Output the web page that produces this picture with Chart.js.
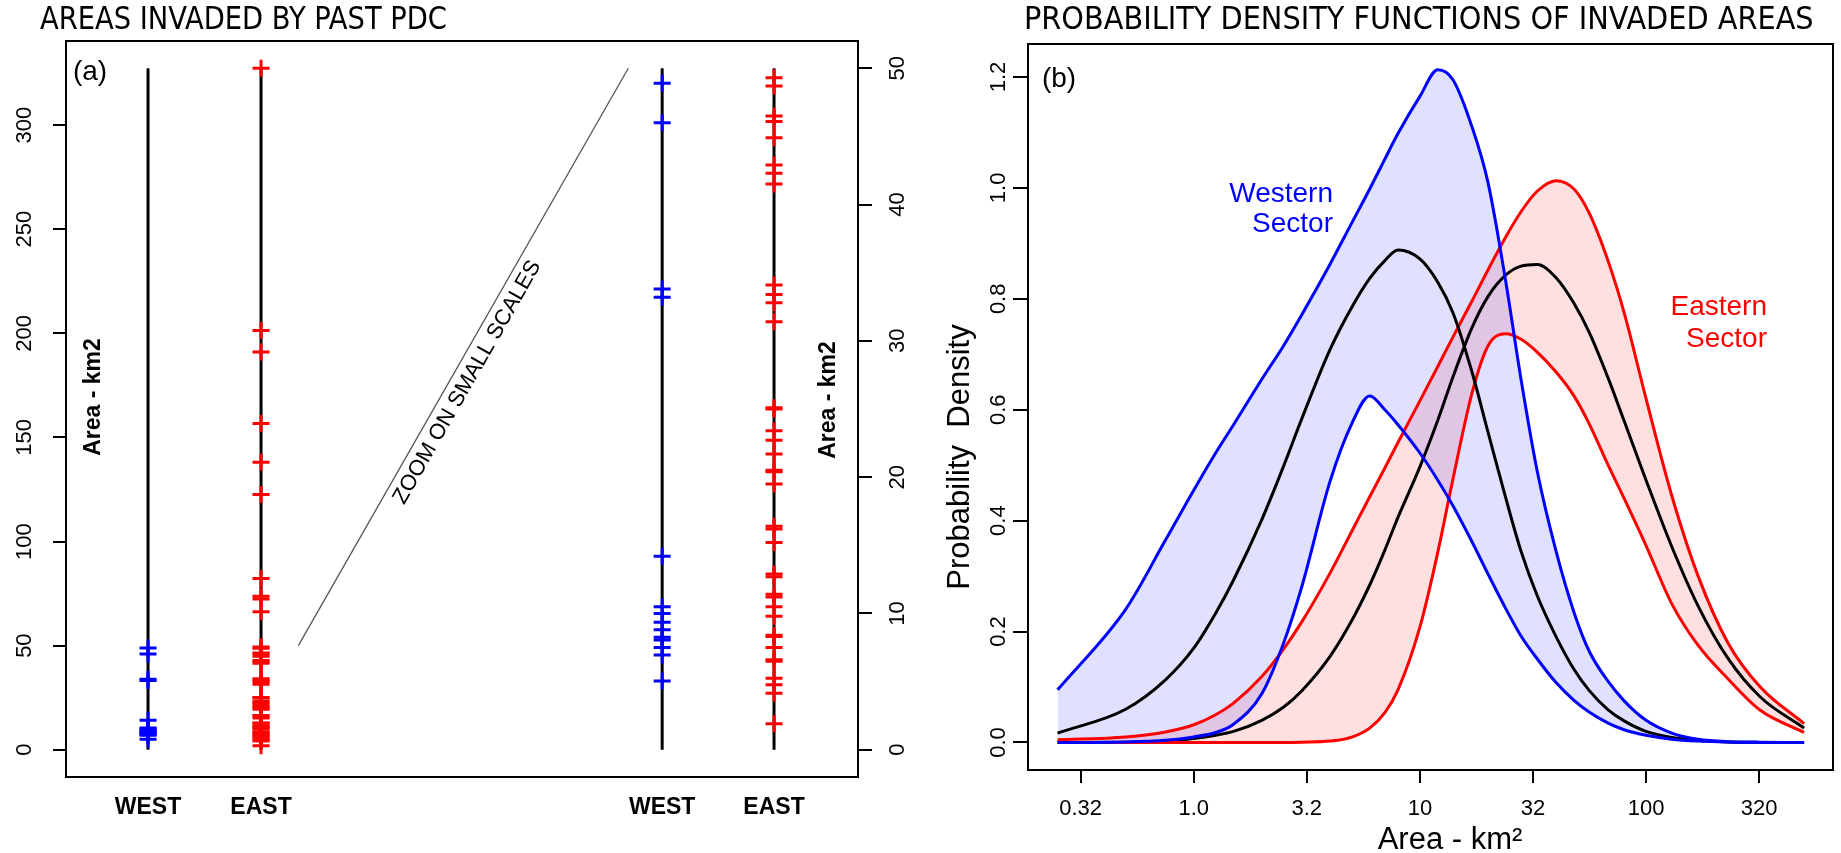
<!DOCTYPE html>
<html>
  <head>
    <title>Areas invaded by past PDC</title>
    <style>
      html, body { margin: 0; padding: 0; background: #fff; }
      #wrap { position: relative; width: 1841px; height: 853px; overflow: hidden; }
      #chartA { position: absolute; left: 0; top: 0; }
      #chartB { position: absolute; left: 920px; top: 0; }
    </style>
    <script src="https://cdn.jsdelivr.net/npm/chart.js"></script>
  </head>
  <body>
    <div id="wrap">
      <canvas id="chartA" width="920" height="853"></canvas>
      <canvas id="chartB" width="921" height="853"></canvas>
    </div>

    <script>
      // (a) invaded areas, km2
      const westAreas = [48.9, 46.0, 33.8, 33.2, 14.2, 10.5, 10.0, 9.35, 8.8, 8.25, 8.06, 7.5, 6.96, 5.05];
      const eastAreas = [327.3, 201.4, 191.0, 156.7, 138.1, 122.6, 82.2, 73.7, 72.4, 66.3,
        49.3, 48.7, 46.5, 46.1, 44.9, 42.9, 42.3, 41.5, 34.1, 33.4, 32.8, 31.4,
        25.1, 25.0, 23.4, 22.7, 21.7, 20.5, 20.4, 19.5, 16.4, 16.2, 15.2, 12.9, 12.7,
        11.4, 11.2, 10.5, 9.8, 8.4, 8.3, 7.5, 6.6, 6.5, 5.25, 4.76, 4.15, 1.9];
      const stripLabels = ['WEST', 'EAST', 'WEST', 'EAST'];
      const stripPos = [1, 2, 5.55, 6.54];
      const zoomLimit = 50;
      const areaTicks = [0, 50, 100, 150, 200, 250, 300];
      const zoomTicks = [0, 10, 20, 30, 40, 50];

      // (b) probability density functions
      const pdfArea = [0.25, 0.5, 0.75, 1, 1.25, 1.5, 2, 2.5, 3, 4, 5, 6, 7, 8, 10, 12, 14, 17, 20, 24, 28, 33, 40, 48, 56, 68, 80, 100, 130, 170, 230, 320, 500];
      const westUpper = [0.095, 0.240, 0.365, 0.455, 0.522, 0.573, 0.655, 0.716, 0.771, 0.862, 0.937, 0.998, 1.052, 1.098, 1.165, 1.213, 1.195, 1.11, 1.01, 0.83, 0.655, 0.49, 0.345, 0.235, 0.165, 0.11, 0.075, 0.04, 0.017, 0.006, 0.0015, 0.0003, 0];
      const westLower = [0, 0.001, 0.004, 0.010, 0.018, 0.033, 0.088, 0.18, 0.28, 0.47, 0.575, 0.625, 0.60, 0.573, 0.522, 0.473, 0.427, 0.362, 0.304, 0.241, 0.192, 0.151, 0.108, 0.076, 0.055, 0.035, 0.023, 0.013, 0.006, 0.0026, 0.0008, 0.0002, 0];
      const westMid = [0.017, 0.060, 0.113, 0.170, 0.233, 0.293, 0.402, 0.499, 0.583, 0.708, 0.785, 0.837, 0.869, 0.888, 0.872, 0.83, 0.775, 0.668, 0.56, 0.44, 0.345, 0.265, 0.191, 0.132, 0.094, 0.059, 0.039, 0.020, 0.009, 0.0035, 0.001, 0.0002, 0];
      const eastUpper = [0.005, 0.010, 0.019, 0.032, 0.050, 0.071, 0.119, 0.169, 0.217, 0.305, 0.381, 0.443, 0.495, 0.541, 0.616, 0.678, 0.731, 0.796, 0.852, 0.912, 0.957, 0.994, 1.013, 0.998, 0.955, 0.868, 0.775, 0.62, 0.445, 0.30, 0.18, 0.10, 0.034];
      const eastLower = [0, 0, 0, 0, 0, 0, 0, 0, 0.0005, 0.0025, 0.0098, 0.026, 0.054, 0.095, 0.208, 0.343, 0.475, 0.63, 0.715, 0.737, 0.727, 0.704, 0.668, 0.625, 0.575, 0.50, 0.44, 0.355, 0.25, 0.175, 0.115, 0.058, 0.018];
      const eastMid = [0, 0.0005, 0.002, 0.007, 0.013, 0.020, 0.040, 0.064, 0.093, 0.155, 0.22, 0.284, 0.347, 0.406, 0.497, 0.581, 0.659, 0.748, 0.804, 0.843, 0.859, 0.862, 0.838, 0.792, 0.74, 0.657, 0.58, 0.473, 0.353, 0.246, 0.152, 0.082, 0.026];
      const pdfTicks = [0.316, 1, 3.16, 10, 31.6, 100, 316];
      const pdfTickLabels = ['0.32', '1.0', '3.2', '10', '32', '100', '320'];
      const densityTicks = [0, 0.2, 0.4, 0.6, 0.8, 1.0, 1.2];

      const SANS = '"Liberation Sans", Arimo, Arial, sans-serif';
      const NARROW = '"Liberation Sans Narrow", "Arial Narrow", "DejaVu Sans Condensed", sans-serif';
      const BLUE = '#0000ff', RED = '#ff0000';
      Chart.defaults.font.family = SANS;
      Chart.defaults.color = '#000';

      function text(ctx, s, x, y, font, color, align, angle, baseline, squeeze) {
        ctx.save();
        ctx.translate(x, y);
        if (angle) ctx.rotate(angle);
        if (squeeze) ctx.scale(squeeze, 1);
        ctx.font = font;
        ctx.fillStyle = color || '#000';
        ctx.textAlign = align || 'center';
        ctx.textBaseline = baseline || 'middle';
        ctx.fillText(s, 0, 0);
        ctx.restore();
      }

      function box(chart) {
        const { ctx, chartArea: a } = chart;
        ctx.save();
        ctx.strokeStyle = '#000';
        ctx.lineWidth = 2;
        ctx.strokeRect(a.left, a.top, a.right - a.left, a.bottom - a.top);
        ctx.restore();
      }

      // R style rotated tick labels
      function tickLabels(chart, id, x, fmt) {
        const sc = chart.scales[id];
        sc.ticks.forEach(t => text(chart.ctx, fmt(t.value), x, sc.getPixelForValue(t.value), '22px ' + SANS, '#000', 'center', -Math.PI / 2));
      }

      function tickMarks(len) {
        return { display: true, drawOnChartArea: false, drawTicks: true, tickLength: len, color: '#000', lineWidth: 2 };
      }

      // ---------- panel (a) ----------
      const topArea = Math.max(...eastAreas, ...westAreas);

      function crosses(pos, values, axis, color) {
        return {
          data: values.map(v => ({ x: pos, y: v })),
          yAxisID: axis,
          showLine: false,
          pointStyle: 'cross',
          pointRadius: 8.5,
          pointBorderWidth: 3,
          pointBorderColor: color,
          pointBackgroundColor: color,
          borderColor: color,
          order: 0,
          clip: false
        };
      }
      function stem(pos, top, axis) {
        return {
          data: [{ x: pos, y: 0 }, { x: pos, y: top }],
          yAxisID: axis,
          borderColor: '#000',
          borderWidth: 3,
          pointRadius: 0,
          order: 1
        };
      }

      const panelA = {
        id: 'panelA',
        afterDraw(chart) {
          const { ctx, scales: { x, yL, yR } } = chart;
          box(chart);
          tickLabels(chart, 'yL', 25, v => String(v));
          tickLabels(chart, 'yR', 898, v => String(v));

          // zoom guide from 50 on the large scale to 50 on the small one
          const x0 = x.getPixelForValue(2.33), y0 = yL.getPixelForValue(zoomLimit);
          const x1 = x.getPixelForValue(5.25), y1 = yR.getPixelForValue(zoomLimit);
          ctx.save();
          ctx.strokeStyle = '#555';
          ctx.lineWidth = 1.3;
          ctx.beginPath();
          ctx.moveTo(x0, y0);
          ctx.lineTo(x1, y1);
          ctx.stroke();
          ctx.restore();
          const ang = Math.atan2(y1 - y0, x1 - x0);
          ctx.save();
          ctx.translate(x0 + (x1 - x0) * 0.47, y0 + (y1 - y0) * 0.47);
          ctx.rotate(ang);
          ctx.font = '22px ' + SANS;
          ctx.fillStyle = '#000';
          ctx.textAlign = 'center';
          ctx.textBaseline = 'middle';
          ctx.fillText('ZOOM ON SMALL SCALES', 0, 16);
          ctx.restore();

          text(ctx, 'AREAS INVADED BY PAST PDC', 40, 21, '32px ' + NARROW, '#000', 'left', 0, 'middle', 0.95);
          text(ctx, '(a)', 90, 72, '28px ' + SANS);
          text(ctx, 'Area - km2', 94, 397, 'bold 23px ' + SANS, '#000', 'center', -Math.PI / 2);
          text(ctx, 'Area - km2', 829, 400, 'bold 23px ' + SANS, '#000', 'center', -Math.PI / 2);
        }
      };

      new Chart(document.getElementById('chartA'), {
        type: 'line',
        data: {
          datasets: [
            crosses(stripPos[0], westAreas, 'yL', BLUE),
            crosses(stripPos[1], eastAreas, 'yL', RED),
            crosses(stripPos[2], westAreas.filter(v => v <= zoomLimit), 'yR', BLUE),
            crosses(stripPos[3], eastAreas.filter(v => v <= zoomLimit), 'yR', RED),
            stem(stripPos[0], topArea, 'yL'),
            stem(stripPos[1], topArea, 'yL'),
            stem(stripPos[2], zoomLimit, 'yR'),
            stem(stripPos[3], zoomLimit, 'yR')
          ]
        },
        options: {
          responsive: false,
          animation: false,
          devicePixelRatio: 1,
          layout: { padding: { top: 41, left: 0, right: 0, bottom: 0 } },
          plugins: { legend: { display: false }, tooltip: { enabled: false } },
          scales: {
            x: {
              type: 'linear', min: 0.274, max: 7.283,
              grid: { display: false }, border: { display: false },
              afterBuildTicks: ax => { ax.ticks = stripPos.map(v => ({ value: v })); },
              ticks: { autoSkip: false, maxRotation: 0, padding: 9, font: { size: 23, weight: 'bold' }, callback: (v, i) => stripLabels[i] },
              afterFit: ax => { ax.height = 76; }
            },
            yL: {
              type: 'linear', position: 'left',
              min: -0.04 * topArea, max: 1.04 * topArea,
              afterBuildTicks: ax => { ax.ticks = areaTicks.map(v => ({ value: v })); },
              ticks: { display: false },
              grid: tickMarks(13), border: { display: false },
              afterFit: ax => { ax.width = 66; }
            },
            yR: {
              type: 'linear', position: 'right',
              min: -0.04 * zoomLimit, max: 1.04 * zoomLimit,
              afterBuildTicks: ax => { ax.ticks = zoomTicks.map(v => ({ value: v })); },
              ticks: { display: false },
              grid: tickMarks(14), border: { display: false },
              afterFit: ax => { ax.width = 62; }
            }
          }
        },
        plugins: [panelA]
      });

      // ---------- panel (b) ----------
      function curve(ys, color, extra) {
        return Object.assign({
          data: pdfArea.map((a, i) => ({ x: a, y: ys[i] })),
          borderColor: color,
          borderWidth: 3,
          pointRadius: 0,
          cubicInterpolationMode: 'monotone',
          fill: false
        }, extra);
      }

      const panelB = {
        id: 'panelB',
        afterDraw(chart) {
          const ctx = chart.ctx;
          box(chart);
          tickLabels(chart, 'y', 79, v => v.toFixed(1));
          text(ctx, 'PROBABILITY DENSITY FUNCTIONS OF INVADED AREAS', 104, 21, '32px ' + NARROW, '#000', 'left');
          text(ctx, '(b)', 139, 79, '28px ' + SANS);
          text(ctx, 'Western', 413, 202, '28px ' + SANS, BLUE, 'right', 0, 'alphabetic');
          text(ctx, 'Sector', 413, 232, '28px ' + SANS, BLUE, 'right', 0, 'alphabetic');
          text(ctx, 'Eastern', 847, 315, '28px ' + SANS, RED, 'right', 0, 'alphabetic');
          text(ctx, 'Sector', 847, 347, '28px ' + SANS, RED, 'right', 0, 'alphabetic');
          text(ctx, 'Probability  Density', 40, 457, '31px ' + SANS, '#000', 'center', -Math.PI / 2);
          text(ctx, 'Area - km\u00b2', 530, 840, '31px ' + SANS);
        }
      };

      new Chart(document.getElementById('chartB'), {
        type: 'line',
        data: {
          datasets: [
            curve(westUpper, BLUE, { fill: '+1', backgroundColor: 'rgba(0,0,255,0.12)' }),
            curve(westLower, BLUE),
            curve(westMid, '#000'),
            curve(eastUpper, RED, { fill: '+1', backgroundColor: 'rgba(255,0,0,0.12)' }),
            curve(eastLower, RED),
            curve(eastMid, '#000')
          ]
        },
        options: {
          responsive: false,
          animation: false,
          devicePixelRatio: 1,
          layout: { padding: { top: 44, left: 0, right: 8, bottom: 0 } },
          plugins: {
            legend: { display: false },
            tooltip: { enabled: false },
            filler: { propagate: false, drawTime: 'beforeDatasetsDraw' }
          },
          scales: {
            x: {
              type: 'logarithmic', min: 0.185, max: 671,
              afterBuildTicks: ax => { ax.ticks = pdfTicks.map(v => ({ value: v })); },
              ticks: { autoSkip: false, maxRotation: 0, padding: 13, font: { size: 22 }, callback: (v, i) => pdfTickLabels[i] },
              grid: tickMarks(13), border: { display: false },
              afterFit: ax => { ax.height = 83; }
            },
            y: {
              type: 'linear', position: 'left', min: -0.0496, max: 1.2595,
              afterBuildTicks: ax => { ax.ticks = densityTicks.map(v => ({ value: v })); },
              ticks: { display: false },
              grid: tickMarks(15), border: { display: false },
              afterFit: ax => { ax.width = 108; }
            }
          }
        },
        plugins: [panelB]
      });
    </script>
  </body>
</html>
